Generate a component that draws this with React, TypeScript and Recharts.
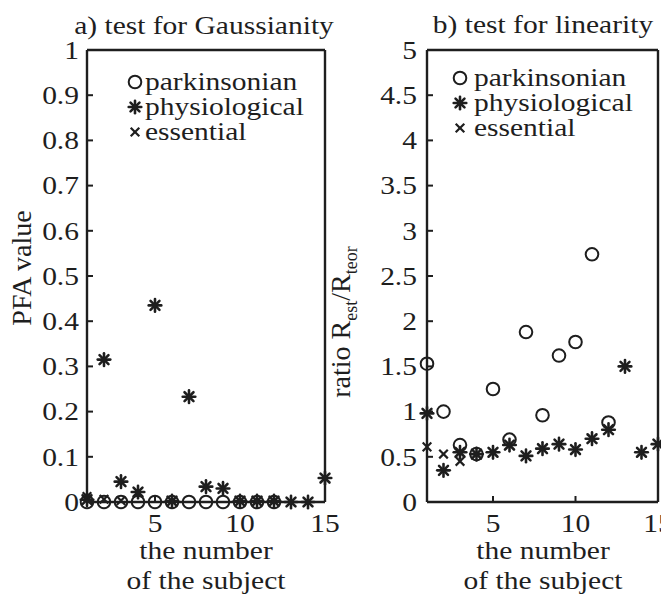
import React from 'react';
import { ScatterChart, Scatter, XAxis, YAxis, Legend } from 'recharts';

// PFA values (panel a), subject index = position + 1
const parkinsonianPFA = [0, 0, 0, 0, 0, 0, 0, 0, 0, 0, 0, 0];
const physiologicalPFA = [0.005, 0.315, 0.045, 0.022, 0.435, 0.002, 0.233, 0.034, 0.03, 0.002, 0.002, 0.002, 0, 0, 0.053];
const essentialPFA = [0.012, 0.006, 0.003];

// ratio R_est / R_teor (panel b)
const parkinsonianRatio = [1.53, 1.0, 0.63, 0.53, 1.25, 0.69, 1.88, 0.96, 1.62, 1.77, 2.74, 0.88];
const physiologicalRatio = [0.98, 0.35, 0.55, 0.53, 0.55, 0.63, 0.51, 0.59, 0.64, 0.58, 0.7, 0.8, 1.5, 0.55, 0.64];
const essentialRatio = [0.61, 0.53, 0.45];

const subjectTicks = [5, 10, 15];
const topTicks = [5, 10];
const pfaTicks = [0, 0.1, 0.2, 0.3, 0.4, 0.5, 0.6, 0.7, 0.8, 0.9, 1];
const ratioTicks = [0, 0.5, 1, 1.5, 2, 2.5, 3, 3.5, 4, 4.5, 5];

const seriesNames = ['parkinsonian', 'physiological', 'essential'];

const INK = '#1e1e1e';
const FONT = '"Liberation Serif", "Times New Roman", serif';
const FS = 25;
const SX = 1.18; // glyphs in the reference are a bit wider than Times

const toPoints = (vals: number[]) => vals.map((v, i) => ({ x: i + 1, y: v }));

const OpenCircle = (p: any) => (
  <circle cx={p.cx} cy={p.cy} r={6.3} fill="none" stroke={INK} strokeWidth={2} />
);

const Star = (p: any) => {
  const r = 6.3;
  const d = r * Math.SQRT1_2;
  return (
    <g stroke={INK} strokeWidth={2.6} strokeLinecap="round">
      <line x1={p.cx - r} y1={p.cy} x2={p.cx + r} y2={p.cy} />
      <line x1={p.cx} y1={p.cy - r} x2={p.cx} y2={p.cy + r} />
      <line x1={p.cx - d} y1={p.cy - d} x2={p.cx + d} y2={p.cy + d} />
      <line x1={p.cx - d} y1={p.cy + d} x2={p.cx + d} y2={p.cy - d} />
      <circle cx={p.cx} cy={p.cy} r={2.4} fill={INK} stroke="none" />
    </g>
  );
};

const Cross = (p: any) => {
  const d = 4.3;
  return (
    <g stroke={INK} strokeWidth={2.2}>
      <line x1={p.cx - d} y1={p.cy - d} x2={p.cx + d} y2={p.cy + d} />
      <line x1={p.cx - d} y1={p.cy + d} x2={p.cx + d} y2={p.cy - d} />
    </g>
  );
};

const markerFor: Record<string, (p: any) => React.ReactElement> = {
  parkinsonian: OpenCircle,
  physiological: Star,
  essential: Cross,
};

const TICK = 6;

const leftTick = (m: number) => (props: any) => {
  const { x, y, payload } = props;
  return (
    <g>
      <line x1={x + m} y1={y} x2={x + m + TICK} y2={y} stroke={INK} strokeWidth={2} />
      <g transform={`translate(${x},${y}) scale(${SX},1)`}>
        <text x={0} y={0} dy="0.35em" textAnchor="end" fontFamily={FONT} fontSize={FS} fill={INK}>
          {payload.value}
        </text>
      </g>
    </g>
  );
};

const rightTick = (m: number) => (props: any) => {
  const { x, y } = props;
  return <line x1={x - m} y1={y} x2={x - m - TICK} y2={y} stroke={INK} strokeWidth={2} />;
};

const bottomTick = (m: number) => (props: any) => {
  const { x, y, payload } = props;
  return (
    <g>
      <line x1={x} y1={y - m} x2={x} y2={y - m - TICK} stroke={INK} strokeWidth={2} />
      <g transform={`translate(${x},${y}) scale(${SX},1)`}>
        <text x={0} y={0} dy="0.71em" textAnchor="middle" fontFamily={FONT} fontSize={FS} fill={INK}>
          {payload.value}
        </text>
      </g>
    </g>
  );
};

const topTick = (m: number) => (props: any) => {
  const { x, y } = props;
  return <line x1={x} y1={y + m} x2={x} y2={y + m + TICK} stroke={INK} strokeWidth={2} />;
};

const legendContent = (markerX: number, textX: number) => (props: any) => {
  const payload = [...(props.payload || [])].sort(
    (a: any, b: any) => seriesNames.indexOf(a.value) - seriesNames.indexOf(b.value)
  );
  return (
    <svg width={220} height={80} style={{ overflow: 'visible', display: 'block' }}>
      {payload.map((entry: any, i: number) => {
        const Marker = markerFor[entry.value] || OpenCircle;
        const cy = 15 + i * 25;
        return (
          <g key={entry.value}>
            <Marker cx={markerX} cy={cy} />
            <g transform={`translate(${textX},${cy}) scale(${SX},1)`}>
              <text x={0} y={0} dy="0.32em" fontFamily={FONT} fontSize={FS} fill={INK}>
                {entry.value}
              </text>
            </g>
          </g>
        );
      })}
    </svg>
  );
};

const axisLine = { stroke: INK, strokeWidth: 2.4 };

interface PanelProps {
  left: number;
  width: number;
  marginLeft: number;
  marginRight: number;
  rightWidth: number;
  yDomain: [number, number];
  yTicks: number[];
  yMargin: number;
  series: number[][];
  legendLeft: number;
  legendTop: number;
  legendTextX: number;
}

const Panel: React.FC<PanelProps> = (p) => (
  <div style={{ position: 'absolute', left: p.left, top: 0 }}>
    <ScatterChart
      width={p.width}
      height={605}
      margin={{ top: 45, right: p.marginRight, bottom: 73, left: p.marginLeft }}
    >
      <XAxis
        xAxisId="b"
        type="number"
        dataKey="x"
        domain={[1, 15]}
        ticks={subjectTicks}
        interval={0}
        height={30}
        tickSize={0}
        tickMargin={12}
        tickLine={false}
        axisLine={axisLine}
        tick={bottomTick(12)}
      />
      <XAxis
        xAxisId="t"
        orientation="top"
        type="number"
        domain={[1, 15]}
        ticks={topTicks}
        interval={0}
        height={5}
        tickSize={0}
        tickMargin={0}
        tickLine={false}
        axisLine={axisLine}
        tick={topTick(0)}
      />
      <YAxis
        yAxisId="l"
        type="number"
        dataKey="y"
        domain={p.yDomain}
        ticks={p.yTicks}
        interval={0}
        width={60}
        tickSize={0}
        tickMargin={p.yMargin}
        tickLine={false}
        axisLine={axisLine}
        tick={leftTick(p.yMargin)}
      />
      <YAxis
        yAxisId="r"
        orientation="right"
        type="number"
        domain={p.yDomain}
        ticks={p.yTicks}
        interval={0}
        width={p.rightWidth}
        tickSize={0}
        tickMargin={0}
        tickLine={false}
        axisLine={axisLine}
        tick={rightTick(0)}
      />
      <Legend
        layout="vertical"
        align="center"
        verticalAlign="middle"
        wrapperStyle={{ left: p.legendLeft, top: p.legendTop, width: 220 }}
        content={legendContent(15, p.legendTextX)}
      />
      {p.series.map((vals, i) => (
        <Scatter
          key={seriesNames[i]}
          name={seriesNames[i]}
          data={toPoints(vals)}
          xAxisId="b"
          yAxisId="l"
          fill={INK}
          shape={markerFor[seriesNames[i]]}
          isAnimationActive={false}
        />
      ))}
    </ScatterChart>
  </div>
);

const textStyle: React.CSSProperties = {
  position: 'absolute',
  fontFamily: FONT,
  fontSize: FS,
  color: INK,
  whiteSpace: 'nowrap',
  lineHeight: '30px',
  textAlign: 'center',
};

const Centered: React.FC<{ x: number; y: number; rotate?: boolean; children: React.ReactNode }> = ({ x, y, rotate, children }) => (
  <div
    style={{
      ...textStyle,
      left: x,
      top: y,
      transform: rotate
        ? 'translate(-50%, -50%) rotate(-90deg)'
        : `translate(-50%, -50%) scaleX(${SX})`,
    }}
  >
    {children}
  </div>
);

export default function App() {
  return (
    <div style={{ position: 'absolute', left: 0, top: 0, width: 661, height: 605, background: '#fff', overflow: 'hidden' }}>
      <Panel
        left={0}
        width={340}
        marginLeft={27}
        marginRight={10}
        rightWidth={5}
        yDomain={[0, 1]}
        yTicks={pfaTicks}
        yMargin={8}
        series={[parkinsonianPFA, physiologicalPFA, essentialPFA]}
        legendLeft={120}
        legendTop={67}
        legendTextX={25}
      />
      <Panel
        left={330}
        width={331}
        marginLeft={37}
        marginRight={2}
        rightWidth={1}
        yDomain={[0, 5]}
        yTicks={ratioTicks}
        yMargin={10}
        series={[parkinsonianRatio, physiologicalRatio, essentialRatio]}
        legendLeft={115}
        legendTop={63}
        legendTextX={29}
      />
      <Centered x={204} y={26}>a) test for Gaussianity</Centered>
      <Centered x={543} y={25}>b) test for linearity</Centered>
      <Centered x={206} y={566}>
        the number
        <br />
        of the subject
      </Centered>
      <Centered x={543} y={566}>
        the number
        <br />
        of the subject
      </Centered>
      <Centered x={22} y={268} rotate>
        <span style={{ fontSize: 28 }}>PFA value</span>
      </Centered>
      <Centered x={346} y={322} rotate>
        <span style={{ fontSize: 28 }}>
          ratio R<sub style={{ fontSize: 18 }}>est</sub>/R<sub style={{ fontSize: 18 }}>teor</sub>
        </span>
      </Centered>
    </div>
  );
}
